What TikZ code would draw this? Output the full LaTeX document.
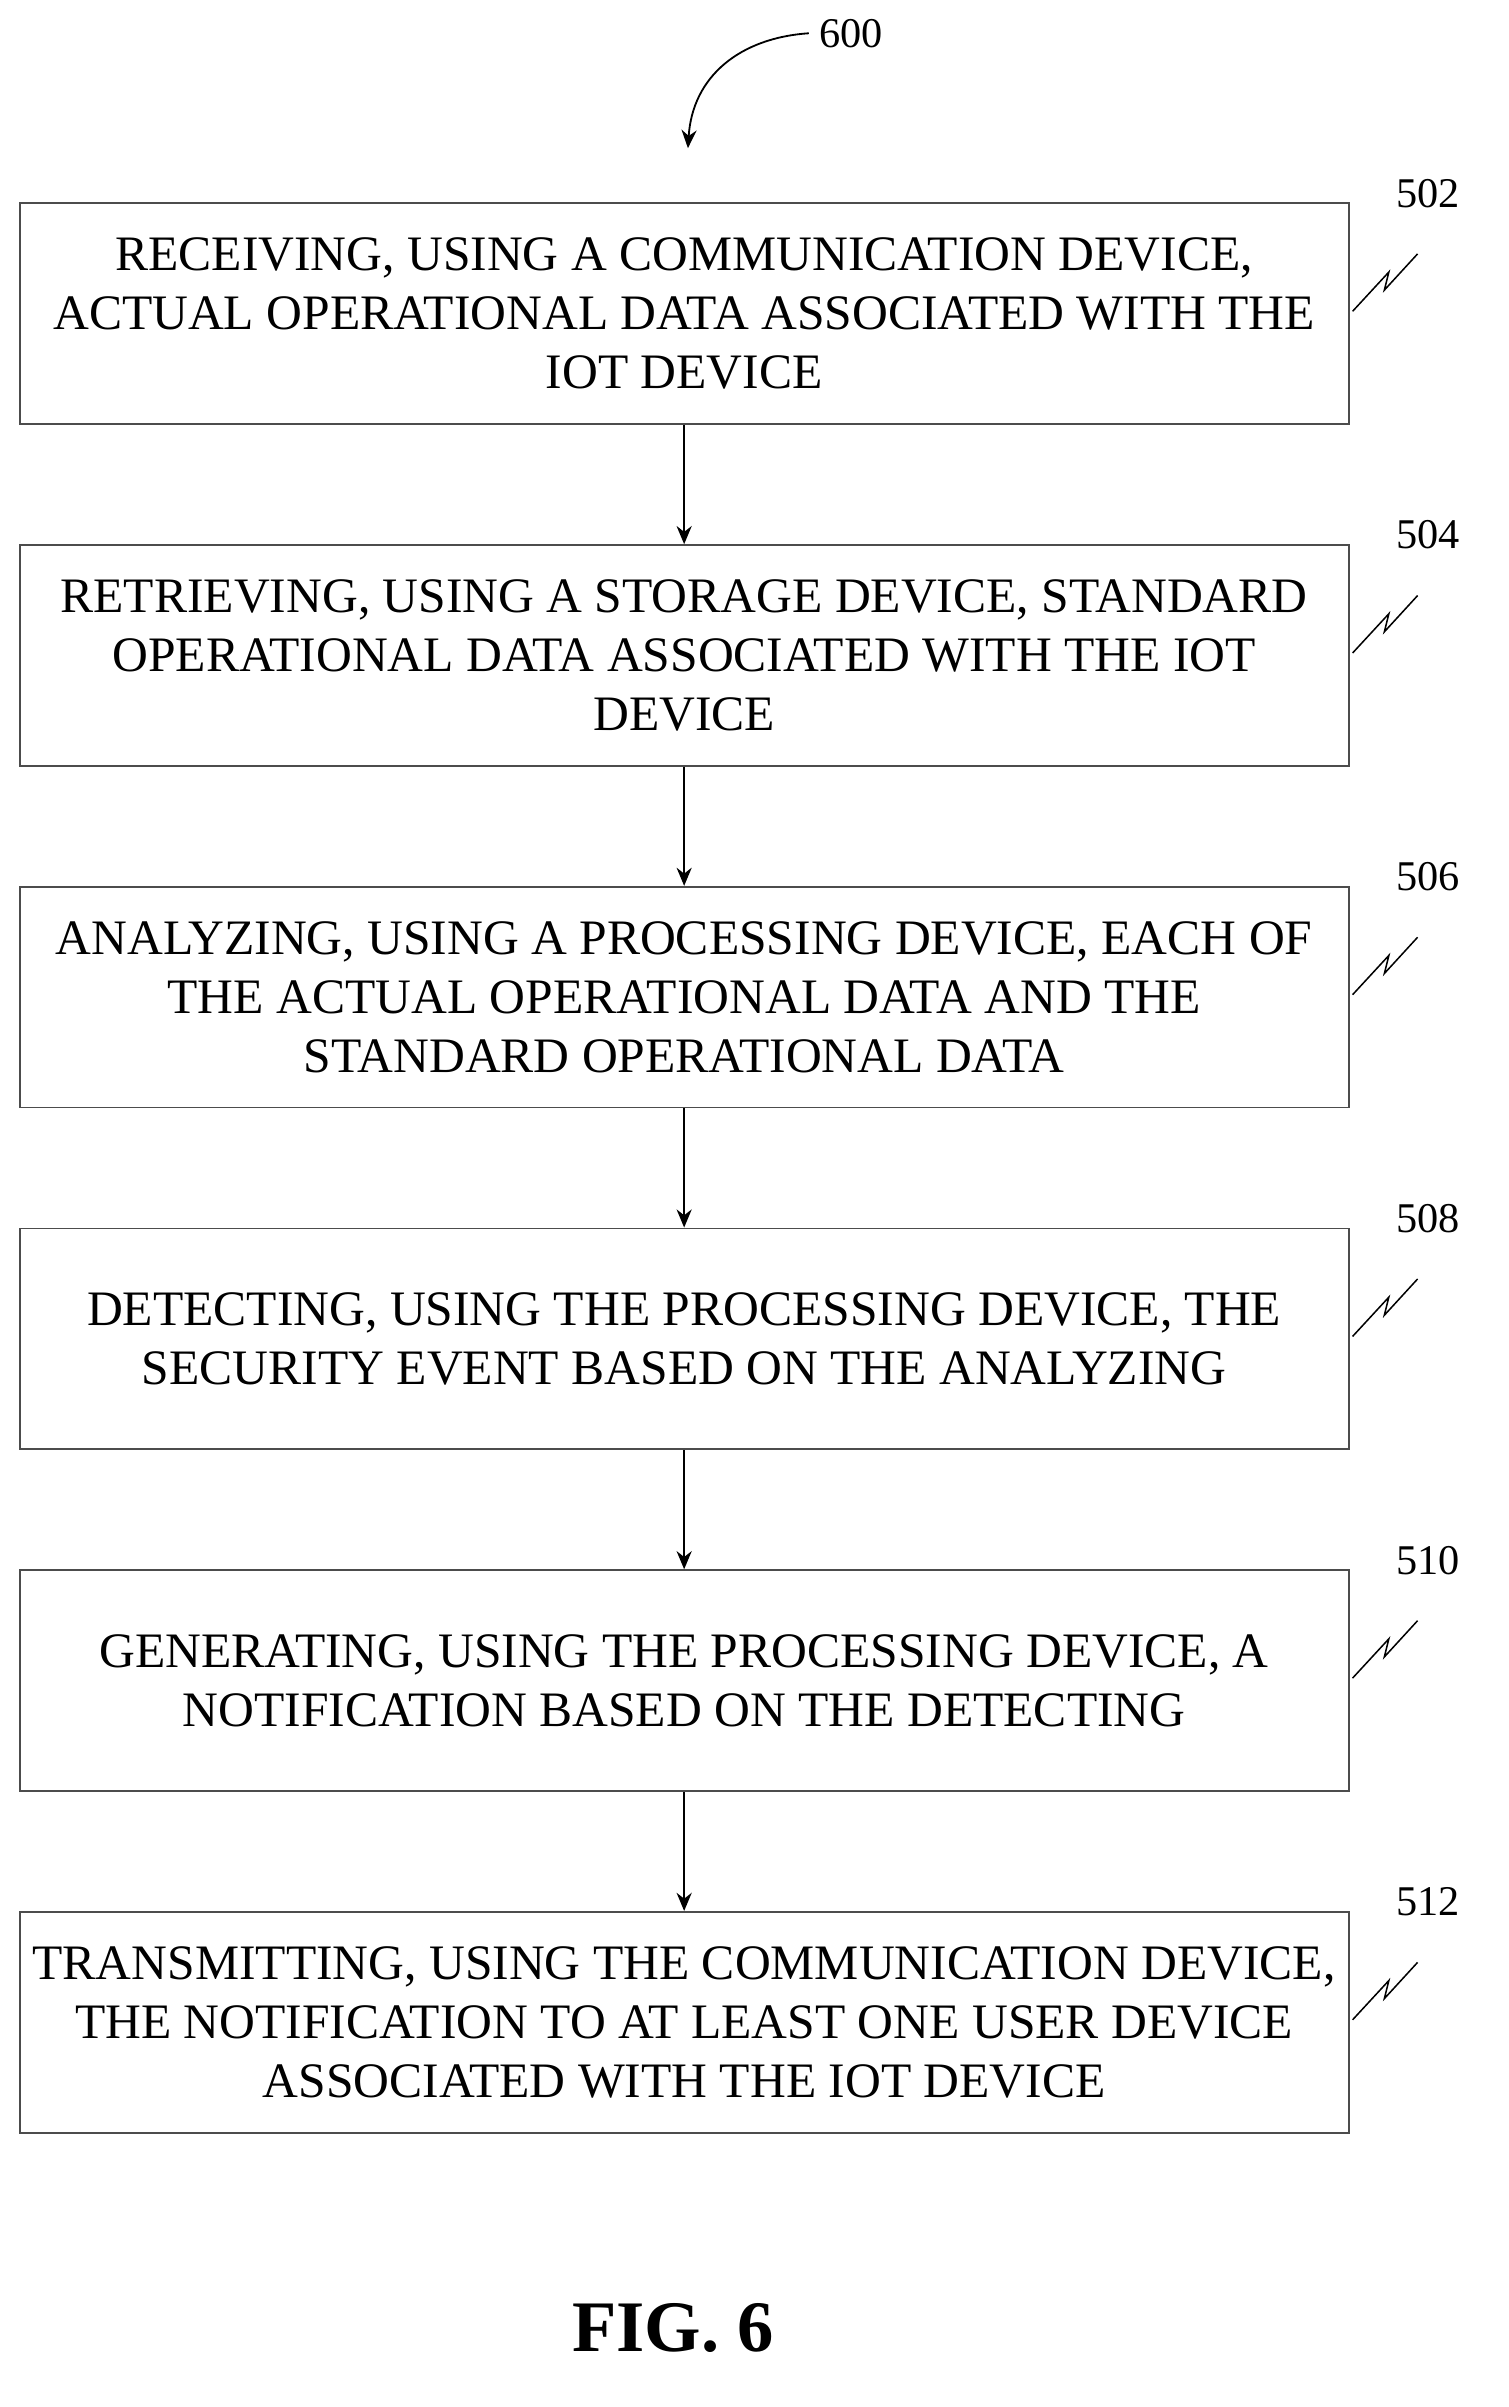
\documentclass[tikz,border=0pt]{standalone}
\usepackage{fontspec}
\setmainfont{Liberation Serif}
\usetikzlibrary{arrows.meta}
\tikzset{
  flowstep/.style={draw=black!70, line width=0.6pt, minimum width=439.5pt, minimum height=73pt,
    align=center, font=\fontsize{16.4}{19.5}\selectfont, inner sep=0pt},
  ref/.style={font=\fontsize{14}{16}\selectfont},
  flow/.style={-{Stealth[length=6pt,width=5pt]}, line width=0.6pt},
}
\begin{document}
\begin{tikzpicture}[x=0.5pt,y=-0.5pt]
\useasboundingbox (0,0) rectangle (998,1592);
% steps
\node[flowstep] (s1) at (452.5,207.5) {RECEIVING, USING A COMMUNICATION DEVICE,\\ACTUAL OPERATIONAL DATA ASSOCIATED WITH THE\\IOT DEVICE};
\node[flowstep] (s2) at (452.5,433.5) {RETRIEVING, USING A STORAGE DEVICE, STANDARD\\OPERATIONAL DATA ASSOCIATED WITH THE IOT\\DEVICE};
\node[flowstep] (s3) at (452.5,659.5) {ANALYZING, USING A PROCESSING DEVICE, EACH OF\\THE ACTUAL OPERATIONAL DATA AND THE\\STANDARD OPERATIONAL DATA};
\node[flowstep] (s4) at (452.5,885.5) {DETECTING, USING THE PROCESSING DEVICE, THE\\SECURITY EVENT BASED ON THE ANALYZING};
\node[flowstep] (s5) at (452.5,1111.5) {GENERATING, USING THE PROCESSING DEVICE, A\\NOTIFICATION BASED ON THE DETECTING};
\node[flowstep] (s6) at (452.5,1337.5) {TRANSMITTING, USING THE COMMUNICATION DEVICE,\\THE NOTIFICATION TO AT LEAST ONE USER DEVICE\\ASSOCIATED WITH THE IOT DEVICE};
% arrows
\foreach \a/\b in {s1/s2,s2/s3,s3/s4,s4/s5,s5/s6}
  \draw[flow] (\a) -- (\b);
% reference numerals
\foreach \s/\n in {s1/502,s2/504,s3/506,s4/508,s5/510,s6/512}{
  \node[ref] (r\n) at ([xshift=26pt,yshift=3pt]\s.north east) {\n};
  \draw[line width=0.5pt] ([xshift=1pt,yshift=-36pt]\s.north east) -- ++(24,-26) -- ++(-3,12) -- ++(22,-24);
}
% figure number
\node[ref] (n600) at (563,22) {600};
\coordinate (top) at (455,98);
\draw[flow] (n600.west) .. controls (490,25) and (458,50) .. (top);
\node[font=\fontsize{24}{28}\selectfont\bfseries] (fig) at (445,1540) {FIG. 6};
\end{tikzpicture}
\end{document}
